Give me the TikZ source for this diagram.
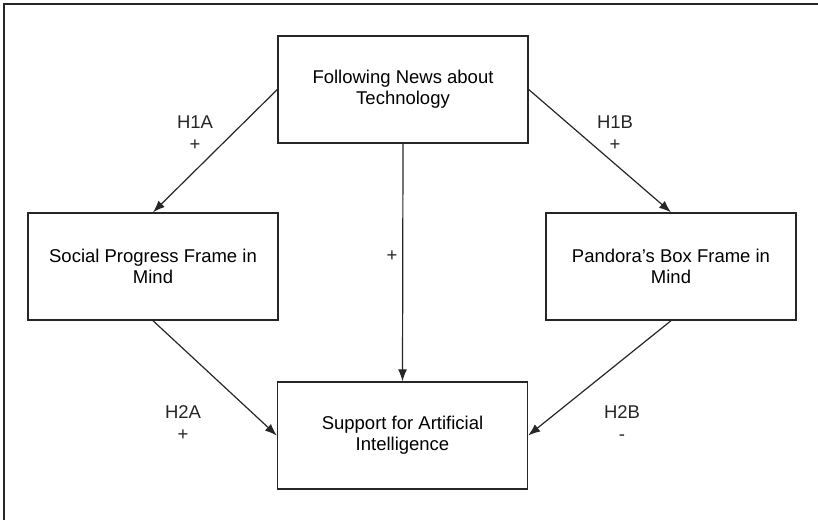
\documentclass[tikz,border=0pt]{standalone}
\usepackage{fontspec}
\setmainfont{Liberation Sans}
\usetikzlibrary{arrows.meta}
\begin{document}
\begin{tikzpicture}[x=1pt,y=-1pt,
  box/.style={draw=black!85,line width=1.4pt,minimum width=250pt,minimum height=107pt,inner sep=0pt,align=center,font=\fontsize{18.5}{21}\selectfont},
  conn/.style={draw=black!85,line width=1.2pt,-{Latex[length=12pt,width=9pt]}},
  lab/.style={align=center,font=\fontsize{18.5}{22}\selectfont,text=black!85}]
\useasboundingbox (0,0) rectangle (818,520);
\coordinate (fa) at (4,520);
\coordinate (fb) at (4,4);
\coordinate (fc) at (818,4);
\draw[black!85,line width=1.6pt] (fa) -- (fb) -- (fc);
\node[box] (top) at (403,89.5) {Following News about\\Technology};
\node[box] (left) at (153,266.5) {Social Progress Frame in\\Mind};
\node[box] (right) at (671,266.5) {Pandora’s Box Frame in\\Mind};
\node[box] (bot) at (402.5,435.5) {Support for Artificial\\Intelligence};
\draw[conn] (top.west) -- (left.north);
\draw[conn] (top.east) -- (right.north);
\draw[conn] (top.south) -- (bot.north);
\draw[conn] (left.south) -- (bot.west);
\draw[conn] (right.south) -- (bot.east);
\node[lab] (h1a) at (195,133) {H1A\\+};
\node[lab] (h1b) at (615,133) {H1B\\+};
\node[lab] (pc) at (392,256) {+};
\node[lab] (h2a) at (183,423) {H2A\\+};
\node[lab] (h2b) at (622,423) {H2B\\-};
\end{tikzpicture}
\end{document}
